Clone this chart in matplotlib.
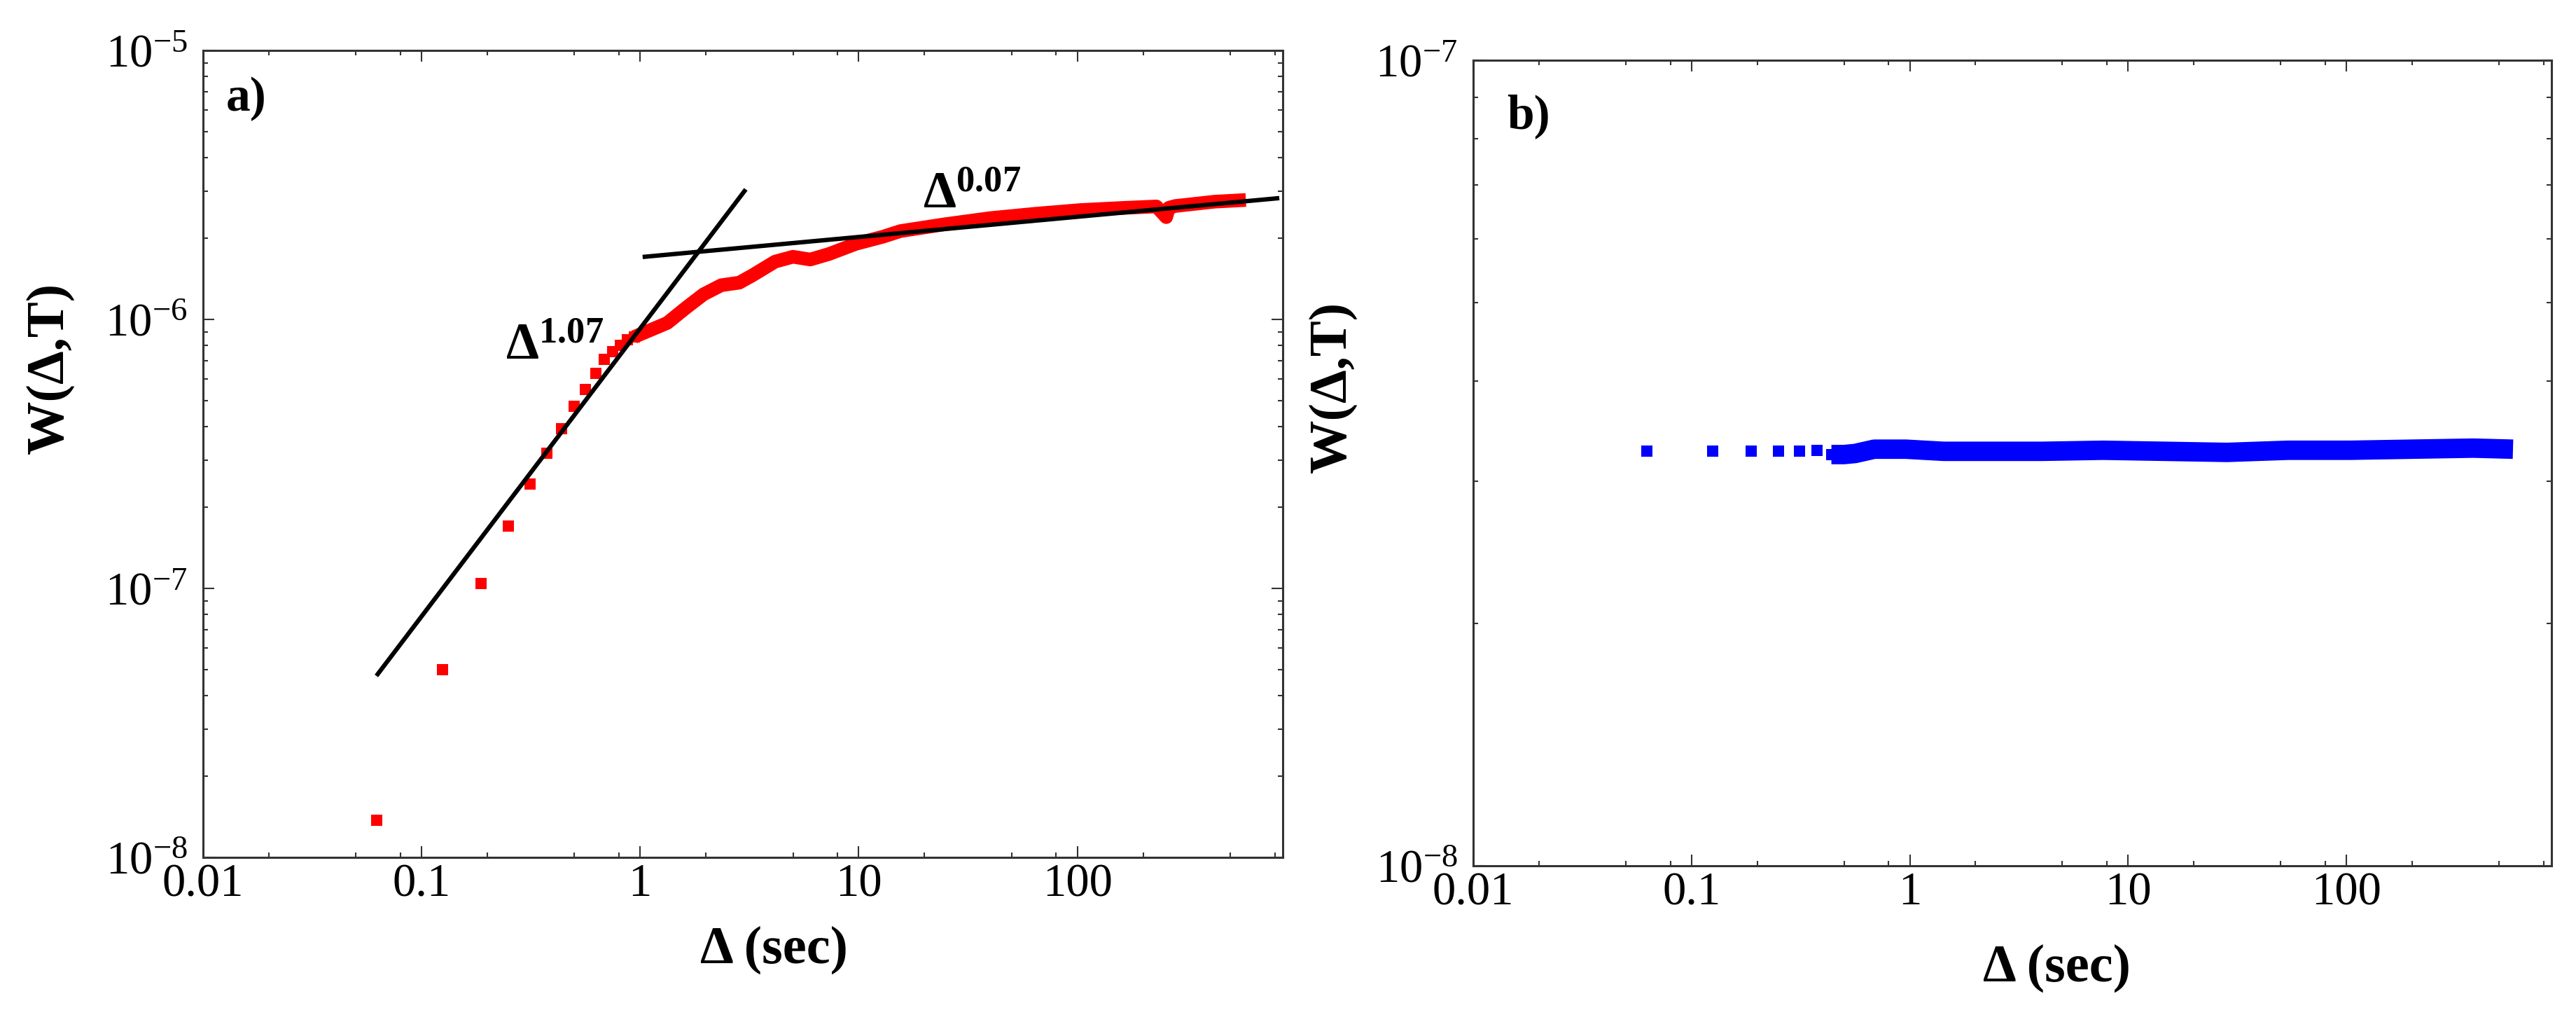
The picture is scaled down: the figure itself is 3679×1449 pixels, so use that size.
import matplotlib
matplotlib.use("Agg")
import matplotlib.pyplot as plt
import matplotlib.ticker as ticker

plt.rcParams['font.family'] = ['Liberation Serif', 'DejaVu Serif']
plt.rcParams['mathtext.fontset'] = 'custom'
plt.rcParams['mathtext.rm'] = 'Liberation Serif'
plt.rcParams['mathtext.it'] = 'Liberation Serif:italic'
plt.rcParams['mathtext.bf'] = 'Liberation Serif:bold'

# === datos panel a (rojo) ===
delta_a_pts = [0.0625, 0.125, 0.1875, 0.25, 0.3125, 0.375, 0.4375, 0.5,
               0.5625, 0.625, 0.6875, 0.75, 0.8125, 0.875, 0.9375]
w_a_pts = [1.37e-8, 5.0e-8, 1.04e-7, 1.70e-7, 2.44e-7, 3.18e-7, 3.93e-7, 4.74e-7,
           5.5e-7, 6.3e-7, 7.1e-7, 7.6e-7, 8.0e-7, 8.4e-7, 8.6e-7]

delta_a_band = [0.9375, 1.0, 1.33, 1.61, 1.95, 2.35, 2.84, 3.27, 4.14, 5.0, 6.0, 7.3,
                9.7, 12.9, 15.5, 24.9, 39.9, 64, 103, 165, 230, 255, 262, 280, 424, 590]
w_a_band = [8.6e-7, 8.8e-7, 9.7e-7, 1.10e-6, 1.24e-6, 1.34e-6, 1.37e-6, 1.46e-6, 1.64e-6,
            1.71e-6, 1.67e-6, 1.75e-6, 1.91e-6, 2.03e-6, 2.13e-6, 2.26e-6, 2.38e-6, 2.47e-6,
            2.55e-6, 2.60e-6, 2.63e-6, 2.40e-6, 2.60e-6, 2.64e-6, 2.74e-6, 2.78e-6]

# rectas de ajuste (extremos leidos)
fit1_x = [0.063, 3.0]
fit1_y = [4.8e-8, 3.0e-6]
fit2_x = [1.05, 820]
fit2_y = [1.71e-6, 2.82e-6]

# === datos panel b (azul) ===
delta_b_pts = [0.0625, 0.125, 0.1875, 0.25, 0.3125, 0.375, 0.4375]
w_b_pts = [3.27e-8, 3.27e-8, 3.27e-8, 3.27e-8, 3.27e-8, 3.28e-8, 3.24e-8]

delta_b_band = [0.4375, 0.5, 0.5625, 0.6875, 0.96, 1.43, 2.39, 4.03, 7.7, 14.8,
                28.4, 54, 104, 199, 382, 580]
w_b_band = [3.24e-8, 3.24e-8, 3.25e-8, 3.29e-8, 3.29e-8, 3.27e-8, 3.27e-8, 3.27e-8,
            3.28e-8, 3.27e-8, 3.26e-8, 3.28e-8, 3.28e-8, 3.29e-8, 3.30e-8, 3.29e-8]

x_major = [0.01, 0.1, 1, 10, 100]
x_labels = ['0.01', '0.1', '1', '10', '100']
x_minor = [m * d for d in [0.01, 0.1, 1, 10, 100] for m in (2, 5, 8)]

XMIN, XMAX = 0.01, 871


def estilo_ejes(ax, ymin, ymax):
    ax.set_xscale('log')
    ax.set_yscale('log')
    ax.set_xlim(XMIN, XMAX)
    ax.set_ylim(ymin, ymax)
    ax.xaxis.set_major_locator(ticker.FixedLocator(x_major))
    ax.xaxis.set_major_formatter(ticker.FixedFormatter(x_labels))
    ax.xaxis.set_minor_locator(ticker.FixedLocator(x_minor))
    ax.xaxis.set_minor_formatter(ticker.NullFormatter())
    ax.yaxis.set_major_locator(ticker.LogLocator(base=10))
    ax.yaxis.set_minor_locator(ticker.LogLocator(base=10, subs=range(2, 10)))
    ax.yaxis.set_minor_formatter(ticker.NullFormatter())
    ax.tick_params(which='both', direction='in', top=True, right=True,
                   width=1.5, color='0.2')
    ax.tick_params(which='major', length=11.5, labelsize=48)
    ax.tick_params(which='minor', length=5)
    ax.tick_params(axis='x', pad=6)
    ax.tick_params(axis='y', pad=16)
    for s in ax.spines.values():
        s.set_linewidth(2.2)
        s.set_color('0.2')


fig = plt.figure(figsize=(36.79, 14.49), dpi=100)

# --- panel a ---
ax_a = fig.add_axes([0.0788, 0.1553, 0.4192, 0.7950])
estilo_ejes(ax_a, 1e-8, 1e-5)
ax_a.plot(delta_a_band, w_a_band, color='#ff0000', lw=14, solid_joinstyle='round',
          solid_capstyle='butt', zorder=2)
ax_a.plot(delta_a_pts, w_a_pts, linestyle='none', marker='s', markersize=11,
          color='#ff0000', markeredgewidth=0, zorder=2)
ax_a.plot(fit1_x, fit1_y, color='black', lw=4.5, zorder=3)
ax_a.plot(fit2_x, fit2_y, color='black', lw=4.5, zorder=3)
ax_a.text(0.243, 7.1e-7, r'$\mathbf{\Delta}^{\mathbf{1.07}}$', fontsize=54,
          ha='left', va='baseline')
ax_a.text(19.6, 2.6e-6, r'$\mathbf{\Delta}^{\mathbf{0.07}}$', fontsize=54,
          ha='left', va='baseline')
ax_a.text(0.021, 0.925, 'a)', transform=ax_a.transAxes, fontsize=50,
          fontweight='bold', ha='left', va='baseline')

# --- panel b ---
ax_b = fig.add_axes([0.5719, 0.1470, 0.4186, 0.7936])
estilo_ejes(ax_b, 1e-8, 1e-7)
ax_b.plot(delta_b_band, w_b_band, color='#0000ff', lw=20, solid_joinstyle='round',
          solid_capstyle='butt', zorder=2)
ax_b.plot(delta_b_pts, w_b_pts, linestyle='none', marker='s', markersize=12,
          color='#0000ff', markeredgewidth=0, zorder=2)
ax_b.text(0.031, 0.916, 'b)', transform=ax_b.transAxes, fontsize=50,
          fontweight='bold', ha='left', va='baseline')

# etiquetas de ejes
W, H = 3679, 1449
fig.text(71 / W, 1 - 525 / H, 'W(Δ,T)', rotation=90, fontsize=55,
         fontweight='bold', ha='center', va='center')
fig.text(1903 / W, 1 - 552 / H, 'W(Δ,T)', rotation=90, fontsize=55,
         fontweight='bold', ha='center', va='center')
fig.text(1105 / W, 1 - 1356 / H, 'Δ (sec)', fontsize=55,
         fontweight='bold', ha='center', va='center')
fig.text(2938 / W, 1 - 1382 / H, 'Δ (sec)', fontsize=55,
         fontweight='bold', ha='center', va='center')

fig.savefig('out.png', dpi=100, facecolor='white')
